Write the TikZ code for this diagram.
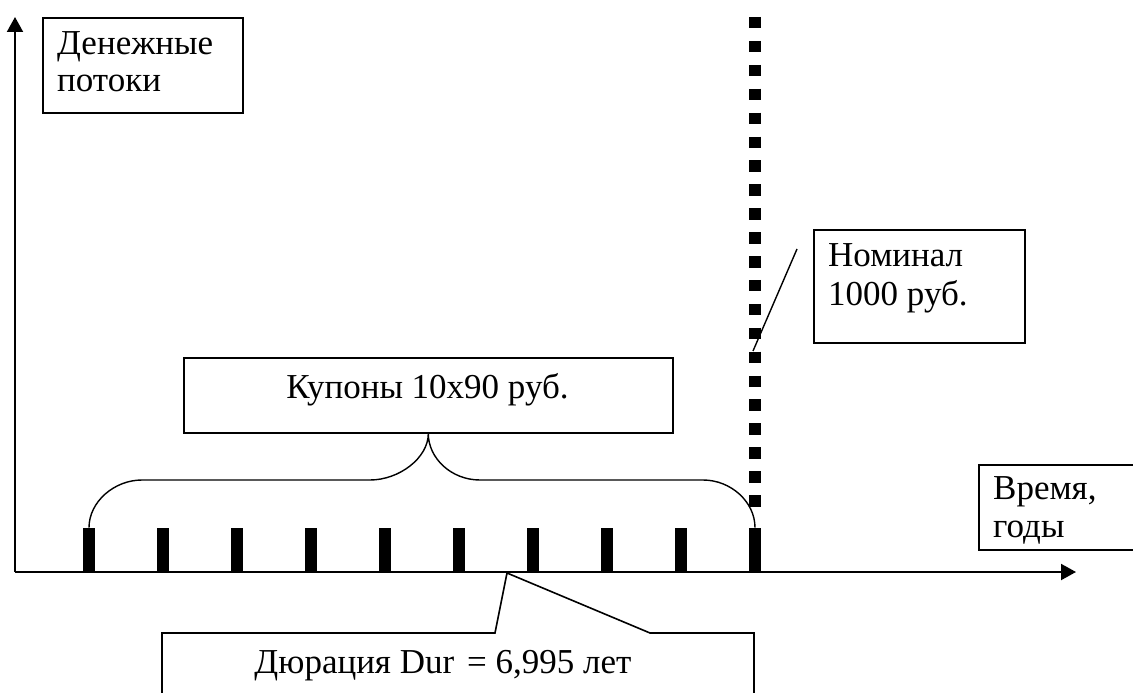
\documentclass[tikz,border=0pt]{standalone}
\usepackage{fontspec}
\setmainfont{Liberation Serif}
\usetikzlibrary{arrows.meta,calc}
\begin{document}
\begin{tikzpicture}[x=1pt,y=-1pt,
  box/.style={draw, line width=1.6pt, inner sep=0pt, anchor=north west},
  frame/.style={line width=1.6pt},
  txt/.style={inner sep=0pt, anchor=base west, font=\fontsize{35}{38}\selectfont},
  axis/.style={line width=2pt, -{Triangle[length=15pt,width=16pt]}},
  bar/.style={fill=black, inner sep=0pt, minimum width=12pt, minimum height=44pt, anchor=south},
  brace/.style={line width=1.4pt},
  ptr/.style={line width=1.4pt},
  dots/.style={line width=12pt, dash pattern=on 11.5pt off 12.4pt}]

\useasboundingbox (0,0) rectangle (1133,693);

% axes
\coordinate (O) at (15,572);
\coordinate (ytip) at (15,17);
\coordinate (xtip) at (1076,572);
\draw[axis] (O) -- (ytip);
\draw[axis] (O) -- (xtip);

% y-axis label box
\node[box, minimum width=200pt, minimum height=95pt] (dp) at (42,17) {};
\node[txt] (dp1) at (57,55) {Денежные};
\node[txt] (dp2) at (57,92) {потоки};

% nominal value: dotted vertical line
\coordinate (dtop) at (755,17);
\coordinate (dbot) at (755,507);
\draw[dots] (dtop) -- (dbot);

% nominal box
\node[box, minimum width=211pt, minimum height=113pt] (nom) at (813,229) {};
\node[txt] (nom1) at (828,266) {Номинал};
\node[txt] (nom2) at (828,305) {1000 руб.};
\coordinate (np1) at (797,249);
\coordinate (np2) at (753,351);
\draw[ptr] (np1) -- (np2);

% time box
\node[box, minimum width=200pt, minimum height=85pt] (tm) at (978,464) {};
\node[txt] (tm1) at (993,499) {Время,};
\node[txt] (tm2) at (993,537) {годы};

% coupon bars
\foreach \i in {0,...,9} {
  \node[bar] (b\i) at ({89+74*\i},572) {};
}

% coupon box
\node[box, minimum width=489pt, minimum height=75pt] (kup) at (183,357) {};
\node[txt, anchor=base] (kt) at (427.5,398) {Купоны 10x90 руб.};

% brace
\draw[brace] (b0.north) .. controls (89,502) and (114,480) .. (142,480)
  -- (370,480) .. controls (399,480) and (kup.south |- 0,458) .. (kup.south)
  .. controls (kup.south |- 0,458) and (451,480) .. (480,480)
  -- (703,480) .. controls (731,480) and (755,502) .. (b9.north);

% duration callout
\coordinate (c1) at (162,700);
\coordinate (c2) at (162,633);
\coordinate (c3) at (495,633);
\coordinate (c4) at (507,573);
\coordinate (c5) at (650,633);
\coordinate (c6) at (754,633);
\coordinate (c7) at (754,700);
\draw[frame] (c1) -- (c2) -- (c3) -- (c4) -- (c5) -- (c6) -- (c7);
\node[txt, anchor=base] (dur) at (443,673) {Дюрация Dur\hspace{0.12em} = 6,995 лет};

\end{tikzpicture}
\end{document}
